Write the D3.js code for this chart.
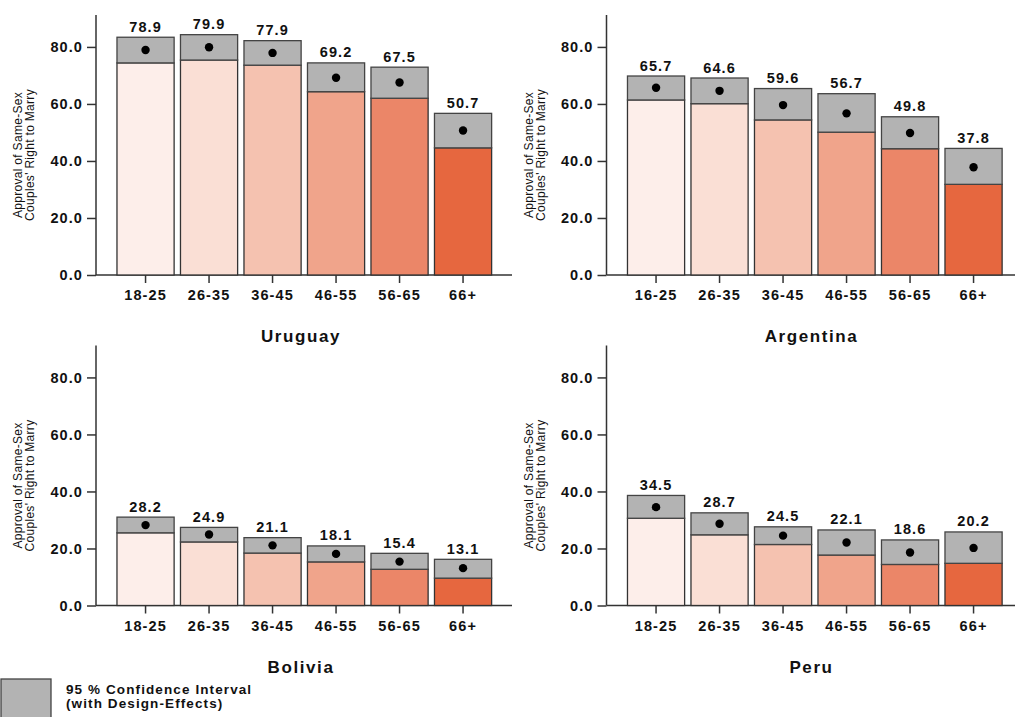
<!DOCTYPE html>
<html>
<head>
<meta charset="utf-8">
<script src="https://cdn.jsdelivr.net/npm/d3@7"></script>
<style>
  body { margin: 0; background: #fff; }
  svg text { font-family: "Liberation Sans", Arial, sans-serif; }
</style>
</head>
<body>
<div id="chart"></div>
<script>
// age groups
const ageGroups = ["18-25", "26-35", "36-45", "46-55", "56-65", "66+"];
const ageGroupsArg = ["16-25", "26-35", "36-45", "46-55", "56-65", "66+"];

// point estimates and 95% CI bounds
const uruguayEst = [78.9, 79.9, 77.9, 69.2, 67.5, 50.7];
const uruguayLow = [74.4, 75.4, 73.6, 64.3, 62.0, 44.6];
const uruguayHigh = [83.4, 84.3, 82.2, 74.4, 72.9, 56.7];

const argentinaEst = [65.7, 64.6, 59.6, 56.7, 49.8, 37.8];
const argentinaLow = [61.4, 60.1, 54.4, 50.1, 44.3, 31.8];
const argentinaHigh = [69.8, 69.1, 65.4, 63.6, 55.5, 44.4];

const boliviaEst = [28.2, 24.9, 21.1, 18.1, 15.4, 13.1];
const boliviaLow = [25.5, 22.3, 18.4, 15.3, 12.7, 9.6];
const boliviaHigh = [31.0, 27.4, 23.8, 20.9, 18.3, 16.2];

const peruEst = [34.5, 28.7, 24.5, 22.1, 18.6, 20.2];
const peruLow = [30.6, 24.8, 21.4, 17.7, 14.4, 14.8];
const peruHigh = [38.6, 32.5, 27.6, 26.5, 23.0, 25.8];

const yTicks = [0, 20, 40, 60, 80];
const barColors = ["#fdeeea", "#fadfd5", "#f5c2b0", "#f0a48b", "#eb8668", "#e6673f"];
const ciColor = "#b3b3b3";
const legendLines = ["95 % Confidence Interval", "(with Design-Effects)"];

const panels = [
    { name: "Uruguay", ages: ageGroups, est: uruguayEst, low: uruguayLow, high: uruguayHigh, col: 0, row: 0 },
    { name: "Argentina", ages: ageGroupsArg, est: argentinaEst, low: argentinaLow, high: argentinaHigh, col: 1, row: 0 },
    { name: "Bolivia", ages: ageGroups, est: boliviaEst, low: boliviaLow, high: boliviaHigh, col: 0, row: 1 },
    { name: "Peru", ages: ageGroups, est: peruEst, low: peruLow, high: peruHigh, col: 1, row: 1 }
];

const svg = d3.select("#chart")
    .append("svg")
    .attr("width", 1015)
    .attr("height", 717);

const plotW = 416;   // axis line length
const plotH = 260;   // y axis height
const fmt = d3.format(".1f");

panels.forEach(p => {
    const left = 96 + p.col * 510.5;
    const zero = p.row === 0 ? 275 : 605.5;

    const g = svg.append("g")
        .attr("transform", `translate(${left},${zero - plotH})`);

    const y = d3.scaleLinear()
        .domain([0, 91.2])
        .range([plotH, 0]);

    const x = d3.scaleBand()
        .domain(p.ages)
        .range([17.8, 398.8])
        .paddingInner(0.1)
        .paddingOuter(0.05);

    const rows = p.ages.map((a, i) => ({ age: a, est: p.est[i], low: p.low[i], high: p.high[i], i: i }));

    // y axis
    const yAxis = g.append("g")
        .call(d3.axisLeft(y).tickValues(yTicks).tickFormat(fmt).tickSize(9).tickPadding(4));
    yAxis.select(".domain").attr("stroke", "#333").attr("stroke-width", 1.5).attr("d", `M0,0V${plotH}`);
    yAxis.selectAll(".tick line").attr("stroke", "#333").attr("stroke-width", 1.5);
    yAxis.selectAll(".tick text")
        .attr("fill", "#111")
        .style("font-size", "14.5px")
        .style("font-weight", "bold")
        .style("letter-spacing", "1.1px");

    // x axis
    const xAxis = g.append("g")
        .attr("transform", `translate(0,${plotH})`)
        .call(d3.axisBottom(x).tickSize(8).tickPadding(7));
    xAxis.select(".domain").attr("stroke", "#333").attr("stroke-width", 1.5).attr("d", `M0,0H${plotW}`);
    xAxis.selectAll(".tick line").attr("stroke", "#333").attr("stroke-width", 1.5);
    xAxis.selectAll(".tick text")
        .attr("fill", "#111")
        .style("font-size", "14.5px")
        .style("font-weight", "bold")
        .style("letter-spacing", "1.1px");

    // colored bars (0 to lower bound)
    g.selectAll("rect.bar")
        .data(rows)
        .enter()
        .append("rect")
        .attr("class", "bar")
        .attr("x", d => x(d.age))
        .attr("y", d => y(d.low))
        .attr("width", x.bandwidth())
        .attr("height", d => y(0) - y(d.low))
        .attr("fill", d => barColors[d.i])
        .attr("stroke", "#333")
        .attr("stroke-width", 1.3);

    // confidence interval boxes
    g.selectAll("rect.ci")
        .data(rows)
        .enter()
        .append("rect")
        .attr("class", "ci")
        .attr("x", d => x(d.age))
        .attr("y", d => y(d.high))
        .attr("width", x.bandwidth())
        .attr("height", d => y(d.low) - y(d.high))
        .attr("fill", ciColor)
        .attr("stroke", "#444")
        .attr("stroke-width", 1.3);

    // point estimates
    g.selectAll("circle.pt")
        .data(rows)
        .enter()
        .append("circle")
        .attr("class", "pt")
        .attr("cx", d => x(d.age) + x.bandwidth() / 2)
        .attr("cy", d => y(d.est))
        .attr("r", 4.2)
        .attr("fill", "#000");

    // value labels
    g.selectAll("text.val")
        .data(rows)
        .enter()
        .append("text")
        .attr("class", "val")
        .attr("x", d => x(d.age) + x.bandwidth() / 2)
        .attr("y", d => y(d.high) - 5.5)
        .attr("text-anchor", "middle")
        .attr("fill", "#111")
        .style("font-size", "14.5px")
        .style("font-weight", "bold")
        .style("letter-spacing", "1.1px")
        .text(d => fmt(d.est));

    // y axis title
    g.append("text")
        .attr("transform", `translate(-74,${plotH / 2 + 10}) rotate(-90)`)
        .attr("text-anchor", "middle")
        .attr("fill", "#111")
        .style("font-size", "12px")
        .style("letter-spacing", "0.3px")
        .selectAll("tspan")
        .data(["Approval of Same-Sex", "Couples' Right to Marry"])
        .enter()
        .append("tspan")
        .attr("x", 0)
        .attr("dy", (d, i) => i === 0 ? 0 : 12.3)
        .text(d => d);

    // panel title
    g.append("text")
        .attr("x", plotW / 2 - 3)
        .attr("y", plotH + 67)
        .attr("text-anchor", "middle")
        .attr("fill", "#111")
        .style("font-size", "17px")
        .style("font-weight", "bold")
        .style("letter-spacing", "1.6px")
        .text(p.name);
});

// legend
const legend = svg.append("g");
legend.append("rect")
    .attr("x", 1)
    .attr("y", 679)
    .attr("width", 50)
    .attr("height", 45)
    .attr("fill", ciColor)
    .attr("stroke", "#444")
    .attr("stroke-width", 1.3);
legend.selectAll("text")
    .data(legendLines)
    .enter()
    .append("text")
    .attr("x", 66)
    .attr("y", (d, i) => 694 + i * 13.5)
    .attr("fill", "#111")
    .style("font-size", "13.5px")
    .style("font-weight", "bold")
    .style("letter-spacing", "1.1px")
    .text(d => d);
</script>
</body>
</html>
